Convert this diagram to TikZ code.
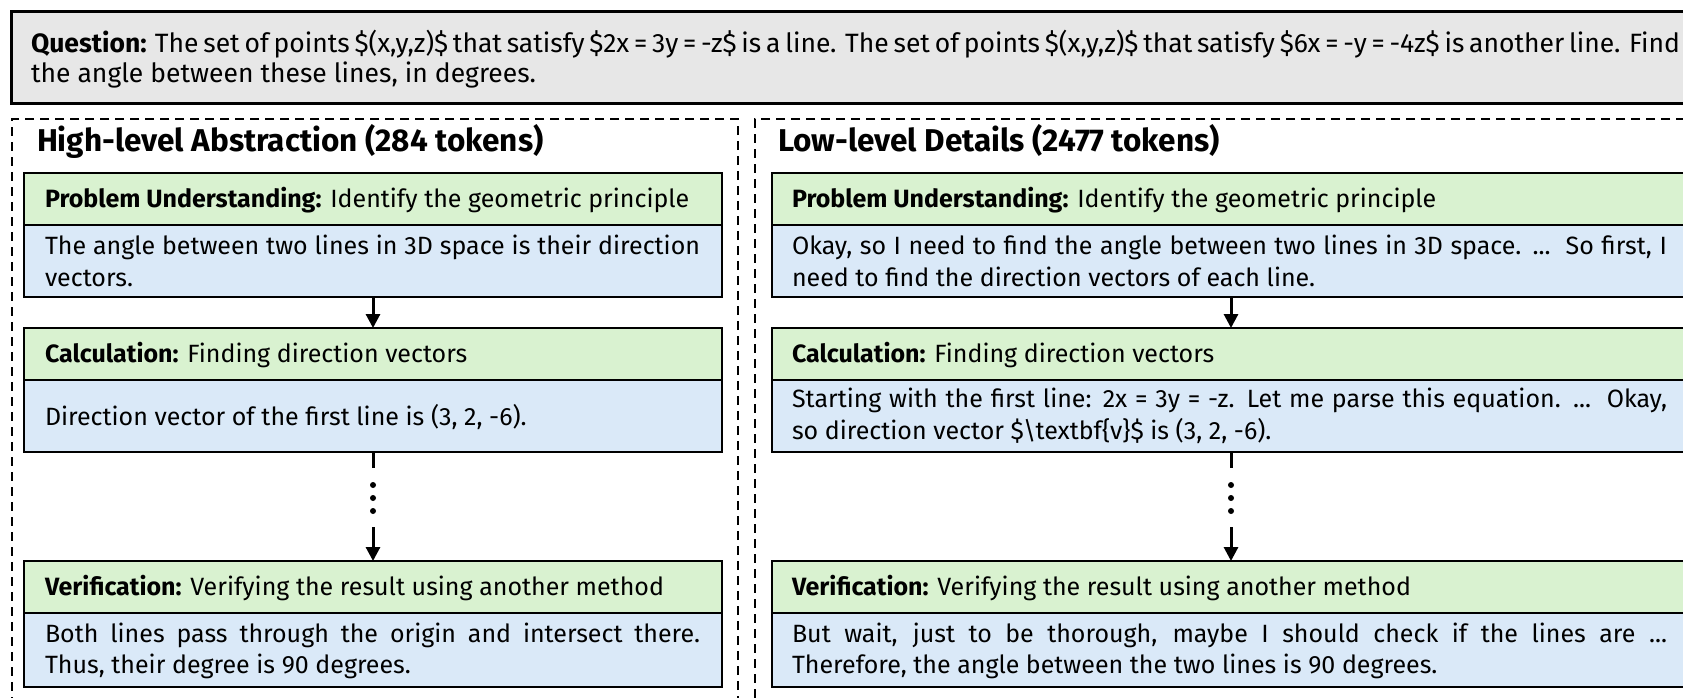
\documentclass[tikz,border=0pt]{standalone}
\usepackage{fontspec}
\setmainfont{Fira Sans}
\usetikzlibrary{arrows.meta,calc}
\definecolor{qgray}{RGB}{231,231,231}
\definecolor{hgreen}{RGB}{217,242,208}
\definecolor{bblue}{RGB}{218,233,248}
\tikzset{
 rowbox/.style={draw=black, line width=2.5pt, inner sep=0pt, outer sep=0pt, anchor=north west},
 hbox/.style={rowbox, fill=hgreen},
 bbox/.style={rowbox, fill=bblue},
 qbox/.style={draw=black, line width=3pt, fill=qgray, inner sep=0pt, outer sep=0pt, anchor=north west},
 dashframe/.style={draw=black, line width=2.5pt, dash pattern=on 9pt off 6pt, inner sep=0pt, outer sep=0pt, anchor=north west},
 txt/.style={anchor=base west, inner sep=0pt, outer sep=0pt, font=\fontsize{25}{30}\selectfont},
 qtxt/.style={anchor=base west, inner sep=0pt, outer sep=0pt, font=\fontsize{26.5}{30}\selectfont},
 ttl/.style={anchor=base west, inner sep=0pt, outer sep=0pt, font=\fontsize{31.5}{36}\selectfont\bfseries},
 arr/.style={line width=3pt, -{Triangle[length=14pt,width=14pt]}},
 conn/.style={line width=3pt},
 dotc/.style={circle, fill=black, inner sep=0pt, minimum size=6pt},
}
\newcommand{\jl}[2]{\makebox[#1][s]{#2}}
\begin{document}
\begin{tikzpicture}[x=1pt,y=-1pt]
\useasboundingbox (0,0) rectangle (1683,697);
\clip (0,0) rectangle (1683,697);
\fill[white] (0,0) rectangle (1683,697);

% question
\node[qbox, minimum width=1720pt, minimum height=92pt] (q) at (11,11) {};
\node[qtxt] (q1) at (31,52) {\jl{1649pt}{\textbf{Question:} The set of points \$(x,y,z)\$ that satisfy \$2x = 3y = -z\$ is a line. The set of points \$(x,y,z)\$ that satisfy \$6x = -y = -4z\$ is another line. Find}};
\node[qtxt] (q2) at (31,82) {the angle between these lines, in degrees.};

% frames
\node[dashframe, minimum width=726pt, minimum height=640pt] (fL) at (12,119) {};
\node[dashframe, minimum width=1000pt, minimum height=640pt] (fR) at (755,119) {};

\node[ttl] (tL) at (37,151) {High-level Abstraction (284 tokens)};
\node[ttl] (tR) at (778,151) {Low-level Details (2477 tokens)};

% left column
\node[hbox, minimum width=698pt, minimum height=52pt] (g1L) at (24,173) {};
\node[bbox, minimum width=698pt, minimum height=72pt] (b1L) at (24,225) {};
\node[hbox, minimum width=698pt, minimum height=52pt] (g2L) at (24,328) {};
\node[bbox, minimum width=698pt, minimum height=72pt] (b2L) at (24,380) {};
\node[hbox, minimum width=698pt, minimum height=52pt] (g3L) at (24,561) {};
\node[bbox, minimum width=698pt, minimum height=74pt] (b3L) at (24,613) {};

% right column
\node[hbox, minimum width=930pt, minimum height=52pt] (g1R) at (772,173) {};
\node[bbox, minimum width=930pt, minimum height=72pt] (b1R) at (772,225) {};
\node[hbox, minimum width=930pt, minimum height=52pt] (g2R) at (772,328) {};
\node[bbox, minimum width=930pt, minimum height=72pt] (b2R) at (772,380) {};
\node[hbox, minimum width=930pt, minimum height=52pt] (g3R) at (772,561) {};
\node[bbox, minimum width=930pt, minimum height=74pt] (b3R) at (772,613) {};

% left texts
\node[txt] (g1Lt) at (45,207) {\textbf{Problem Understanding:} Identify the geometric principle};
\node[txt] (b1Lt1) at (45,254) {\jl{655pt}{The angle between two lines in 3D space is their direction}};
\node[txt] (b1Lt2) at (45,286) {vectors.};
\node[txt] (g2Lt) at (45,362) {\textbf{Calculation:} Finding direction vectors};
\node[txt] (b2Lt) at (45,425) {Direction vector of the first line is (3, 2, -6).};
\node[txt] (g3Lt) at (45,595) {\textbf{Verification:} Verifying the result using another method};
\node[txt] (b3Lt1) at (45,642) {\jl{655pt}{Both lines pass through the origin and intersect there.}};
\node[txt] (b3Lt2) at (45,673.5) {Thus, their degree is 90 degrees.};

% right texts
\node[txt] (g1Rt) at (792,207) {\textbf{Problem Understanding:} Identify the geometric principle};
\node[txt] (b1Rt1) at (792,254) {\jl{875pt}{Okay, so I need to find the angle between two lines in 3D space. ...\ \ So first, I}};
\node[txt] (b1Rt2) at (792,286) {need to find the direction vectors of each line.};
\node[txt] (g2Rt) at (792,362) {\textbf{Calculation:} Finding direction vectors};
\node[txt] (b2Rt1) at (792,407.5) {\jl{875pt}{Starting with the first line: 2x = 3y = -z. Let me parse this equation. ...\ \ Okay,}};
\node[txt] (b2Rt2) at (792,439) {so direction vector \$\textbackslash textbf\{v\}\$ is (3, 2, -6).};
\node[txt] (g3Rt) at (792,595) {\textbf{Verification:} Verifying the result using another method};
\node[txt] (b3Rt1) at (792,642) {\jl{875pt}{But wait, just to be thorough, maybe I should check if the lines are ...}};
\node[txt] (b3Rt2) at (792,673.5) {Therefore, the angle between the two lines is 90 degrees.};

% connectors left
\draw[arr] (b1L.south) -- (g2L.north);
\coordinate (d1L) at ($(b2L.south)+(0,16)$);
\draw[conn] (b2L.south) -- (d1L);
\node[dotc] (p1L) at ($(b2L.south)+(0,33)$) {};
\node[dotc] (p2L) at ($(b2L.south)+(0,46)$) {};
\node[dotc] (p3L) at ($(b2L.south)+(0,59)$) {};
\coordinate (d2L) at ($(g3L.north)+(0,-34)$);
\draw[arr] (d2L) -- (g3L.north);

% connectors right
\draw[arr] ($(b1R.south west)+(459,0)$) -- ($(g2R.north west)+(459,0)$);
\coordinate (d0R) at ($(b2R.south west)+(459,0)$);
\coordinate (d1R) at ($(d0R)+(0,16)$);
\draw[conn] (d0R) -- (d1R);
\node[dotc] (p1R) at ($(d0R)+(0,33)$) {};
\node[dotc] (p2R) at ($(d0R)+(0,46)$) {};
\node[dotc] (p3R) at ($(d0R)+(0,59)$) {};
\coordinate (e0R) at ($(g3R.north west)+(459,0)$);
\coordinate (d2R) at ($(e0R)+(0,-34)$);
\draw[arr] (d2R) -- (e0R);
\end{tikzpicture}
\end{document}
